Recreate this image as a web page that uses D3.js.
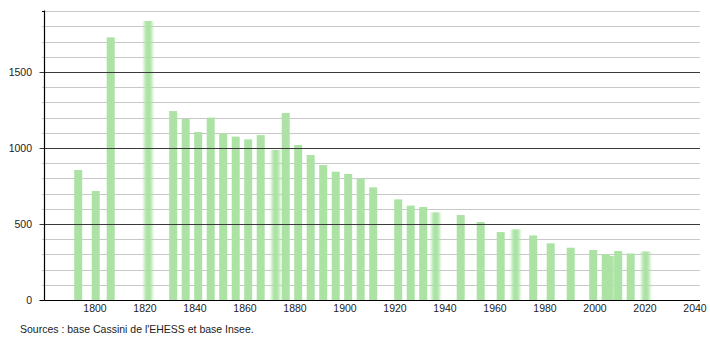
<!DOCTYPE html>
<html>
<head>
<meta charset="utf-8">
<script src="https://cdn.jsdelivr.net/npm/d3@7"></script>
<style>
  html, body { margin: 0; padding: 0; background: #fff; }
  svg { display: block; font-family: "Liberation Sans", Arial, sans-serif; }
</style>
</head>
<body>
<svg id="chart" width="710" height="340"></svg>
<script>
// ---- data ----
const years = [1793, 1800, 1806, 1821, 1831, 1836, 1841, 1846, 1851, 1856, 1861, 1866,
  1872, 1876, 1881, 1886, 1891, 1896, 1901, 1906, 1911, 1921, 1926, 1931, 1936,
  1946, 1954, 1962, 1968, 1975, 1982, 1990, 1999, 2004, 2006, 2009, 2014, 2020];
const population = [855, 717, 1728, 1836, 1243, 1191, 1105, 1200, 1097, 1075, 1057, 1085,
  987, 1230, 1020, 954, 888, 844, 829, 800, 741, 662, 621, 612, 577,
  559, 513, 447, 465, 425, 373, 344, 329, 303, 290, 322, 306, 319];
const blurredYears = [1821, 1872, 1936, 1968, 2006, 2020];
const xTicks = [1800, 1820, 1840, 1860, 1880, 1900, 1920, 1940, 1960, 1980, 2000, 2020, 2040];
const yMajorTicks = [0, 500, 1000, 1500];
const yMinorTicks = d3.range(0, 2000, 100);
const sourceText = "Sources : base Cassini de l'EHESS et base Insee.";

// ---- drawing ----
const svg = d3.select("#chart");
const x = d3.scaleLinear().domain([1780, 2042]).range([45, 700]);
const y = d3.scaleLinear().domain([0, 1900]).range([300, 11.2]);

const defs = svg.append("defs");
defs.append("filter").attr("id", "hblur")
  .attr("x", "-100%").attr("y", "0%").attr("width", "300%").attr("height", "100%")
  .append("feGaussianBlur").attr("stdDeviation", "1.6 0");

const x0 = x.range()[0] - 0.5;
const x1 = x.range()[1];

// minor gridlines
svg.append("g").selectAll("line").data(yMinorTicks.filter(v => v % 500 !== 0))
  .join("line")
  .attr("x1", x0 - 2.5).attr("x2", x1)
  .attr("y1", d => Math.round(y(d)) + 0.5).attr("y2", d => Math.round(y(d)) + 0.5)
  .attr("stroke", "#c8c8c8").attr("stroke-width", 1);

// bars
const data = years.map((yr, i) => ({ year: yr, value: population[i] }));
const order = data.slice().sort((a, b) => a.value - b.value);
svg.append("g").selectAll("rect").data(order).join("rect")
  .attr("x", d => x(d.year) - 3.3)
  .attr("width", 8)
  .attr("y", d => y(d.value))
  .attr("height", d => y(0) - y(d.value))
  .attr("fill", "#ace3a4")
  .attr("filter", d => blurredYears.includes(d.year) ? "url(#hblur)" : null);

// major gridlines
svg.append("g").selectAll("line").data(yMajorTicks.filter(v => v > 0))
  .join("line")
  .attr("x1", x0 - 5).attr("x2", x1)
  .attr("y1", d => Math.round(y(d)) + 0.5).attr("y2", d => Math.round(y(d)) + 0.5)
  .attr("stroke", "#3a3a3a").attr("stroke-width", 1);

// axes lines
svg.append("line")
  .attr("x1", x0).attr("x2", x0)
  .attr("y1", Math.round(y(1900)) - 0.5).attr("y2", y(0) + 0.5)
  .attr("stroke", "#000").attr("stroke-width", 1.2);
svg.append("line")
  .attr("x1", x0 - 5).attr("x2", x1)
  .attr("y1", y(0) + 0.5).attr("y2", y(0) + 0.5)
  .attr("stroke", "#000").attr("stroke-width", 1.2);
svg.append("line")
  .attr("x1", x0 - 2.5).attr("x2", x0)
  .attr("y1", Math.round(y(1900)) + 0.5).attr("y2", Math.round(y(1900)) + 0.5)
  .attr("stroke", "#000");

// y labels
svg.append("g").selectAll("text").data(yMajorTicks).join("text")
  .attr("x", 32).attr("y", d => y(d) + 3.5)
  .attr("text-anchor", "end")
  .attr("font-size", 10.5).attr("fill", "#222")
  .text(d => d);

// x labels
svg.append("g").selectAll("text").data(xTicks).join("text")
  .attr("x", d => x(d)).attr("y", 312)
  .attr("text-anchor", "middle")
  .attr("font-size", 10.5).attr("fill", "#222")
  .text(d => d);

// source
svg.append("text").attr("x", 20).attr("y", 333)
  .attr("font-size", 10.5).attr("fill", "#222")
  .text(sourceText);
</script>
</body>
</html>
